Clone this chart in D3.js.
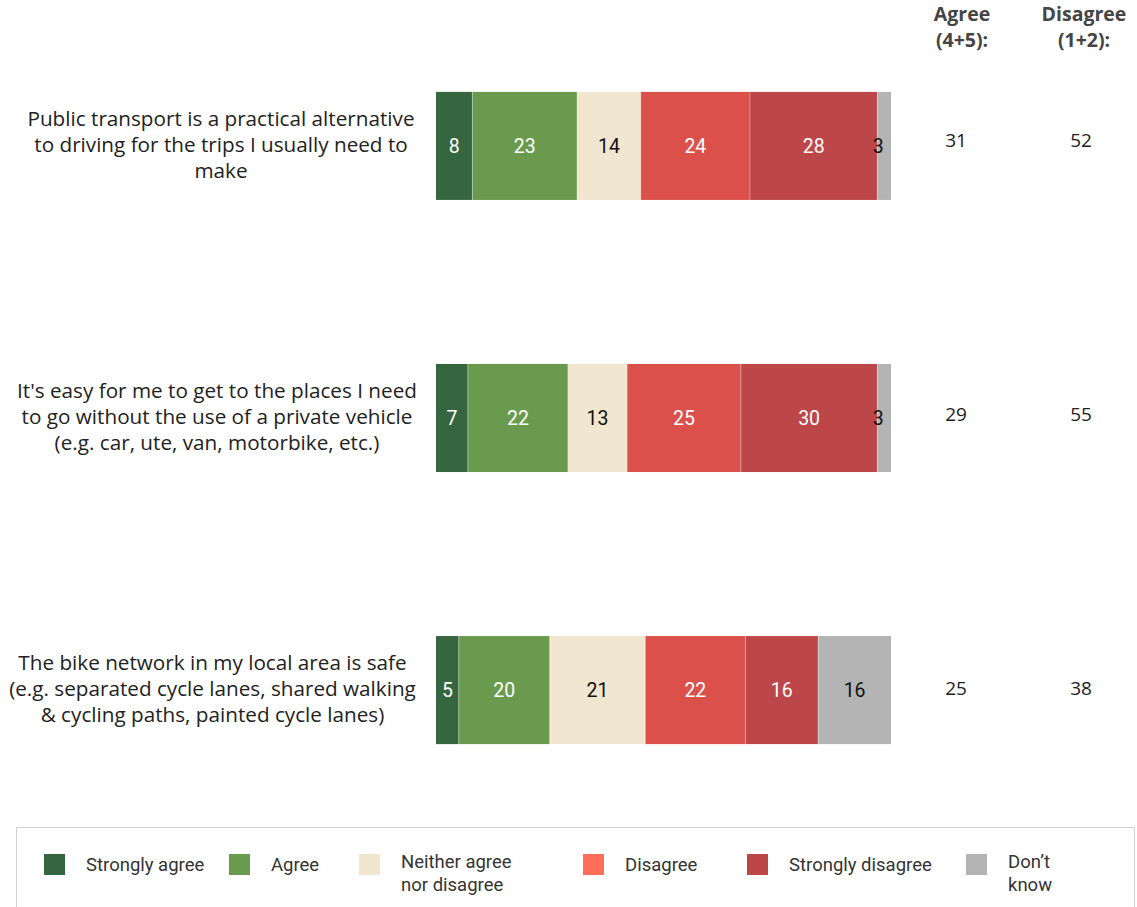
<!DOCTYPE html>
<html><head><meta charset="utf-8">
<script src="https://cdn.jsdelivr.net/npm/d3@7"></script>
<style>body{margin:0;background:#fff}svg{display:block}</style>
</head><body>
<svg id="c" width="1137" height="907"></svg>
<script>
const categories = [
  ["Public transport is a practical alternative","to driving for the trips I usually need to","make"],
  ["It's easy for me to get to the places I need","to go without the use of a private vehicle","(e.g. car, ute, van, motorbike, etc.)"],
  ["The bike network in my local area is safe","(e.g. separated cycle lanes, shared walking","& cycling paths, painted cycle lanes)"]
];
const seriesNames = ["Strongly agree","Agree","Neither agree nor disagree","Disagree","Strongly disagree","Don’t know"];
const stronglyAgree = [8,7,5];
const agree = [23,22,20];
const neither = [14,13,21];
const disagree = [24,25,22];
const stronglyDisagree = [28,30,16];
const dontKnow = [3,3,16];
const agreeTotals = [31,29,25];
const disagreeTotals = [52,55,38];
const colors = ["#36663f","#6a9a4d","#f1e6d0","#db504a","#bd4648","#b4b4b4"];
const legendColors = ["#36663f","#6a9a4d","#f1e6d0","#ff6e5a","#bd4648","#b4b4b4"];
const textColors = ["#fff","#fff","#111","#fff","#fff","#111"];
const legendLabels = [["Strongly agree"],["Agree"],["Neither agree","nor disagree"],["Disagree"],["Strongly disagree"],["Don’t","know"]];

const series = [stronglyAgree, agree, neither, disagree, stronglyDisagree, dontKnow];
const svg = d3.select("#c");
const font = "Roboto, 'Open Sans', sans-serif";
const catFont = "'Open Sans', Roboto, sans-serif";

const x = d3.scaleLinear().domain([0,100]).range([436,891]);
const y = d3.scaleBand().domain(d3.range(categories.length)).range([10,826]).paddingInner(0.6029).paddingOuter(0.301);
const valOff = [1, 3, 5];
const labelCx = [221, 217, 212.5];

categories.forEach((lines, i) => {
  let cum = 0;
  series.forEach((s, k) => {
    const v = s[i];
    const x0 = x(cum), x1 = x(cum + v);
    svg.append("rect").attr("x", x0).attr("y", y(i)).attr("width", x1 - x0).attr("height", y.bandwidth())
      .attr("fill", colors[k]);
    if (k > 0) svg.append("line").attr("x1", x0).attr("x2", x0).attr("y1", y(i)).attr("y2", y(i)+y.bandwidth())
      .attr("stroke", "#ffffff").attr("stroke-opacity", 0.35).attr("stroke-width", 1);
    svg.append("text").attr("x", (x0 + x1) / 2 - (v < 5 ? 6 : 0)).attr("y", y(i) + y.bandwidth()/2 + 7)
      .attr("text-anchor", "middle").attr("font-family", font).attr("font-size", 19.5)
      .attr("fill", textColors[k]).text(v);
    cum += v;
  });
  const cy = y(i) + y.bandwidth()/2;
  const t = svg.append("text").attr("text-anchor", "middle").attr("font-family", catFont)
    .attr("font-size", 20.7).attr("fill", "#222");
  lines.forEach((l, j) => t.append("tspan").attr("x", labelCx[i]).attr("y", cy - 20 + j * 26).text(l));
  svg.append("text").attr("x", 956).attr("y", cy + valOff[i]).attr("text-anchor","middle").attr("font-family", catFont)
    .attr("font-size", 19).attr("fill", "#222").text(agreeTotals[i]);
  svg.append("text").attr("x", 1081).attr("y", cy + valOff[i]).attr("text-anchor","middle").attr("font-family", catFont)
    .attr("font-size", 19).attr("fill", "#222").text(disagreeTotals[i]);
});

[["Agree","(4+5):",962],["Disagree","(1+2):",1084]].forEach(h => {
  const t = svg.append("text").attr("text-anchor","middle").attr("font-family", catFont)
    .attr("font-size", 19.5).attr("font-weight", "bold").attr("fill", "#444");
  t.append("tspan").attr("x", h[2]).attr("y", 21).text(h[0]);
  t.append("tspan").attr("x", h[2]).attr("y", 47).text(h[1]);
});

// legend
svg.append("rect").attr("x", 16.5).attr("y", 827.5).attr("width", 1118).attr("height", 100)
  .attr("fill", "none").attr("stroke", "#d0d0d0");
const lx = [44, 229, 359, 583, 747, 966];
legendLabels.forEach((lab, k) => {
  svg.append("rect").attr("x", lx[k]).attr("y", 854).attr("width", 21).attr("height", 21).attr("fill", legendColors[k]);
  const t = svg.append("text").attr("font-family", font).attr("font-size", 18.5).attr("fill", "#333");
  lab.forEach((l, j) => t.append("tspan").attr("x", lx[k] + 42).attr("y", (lab.length > 1 ? 868 : 871) + j * 23).text(l));
});
</script>
</body></html>
